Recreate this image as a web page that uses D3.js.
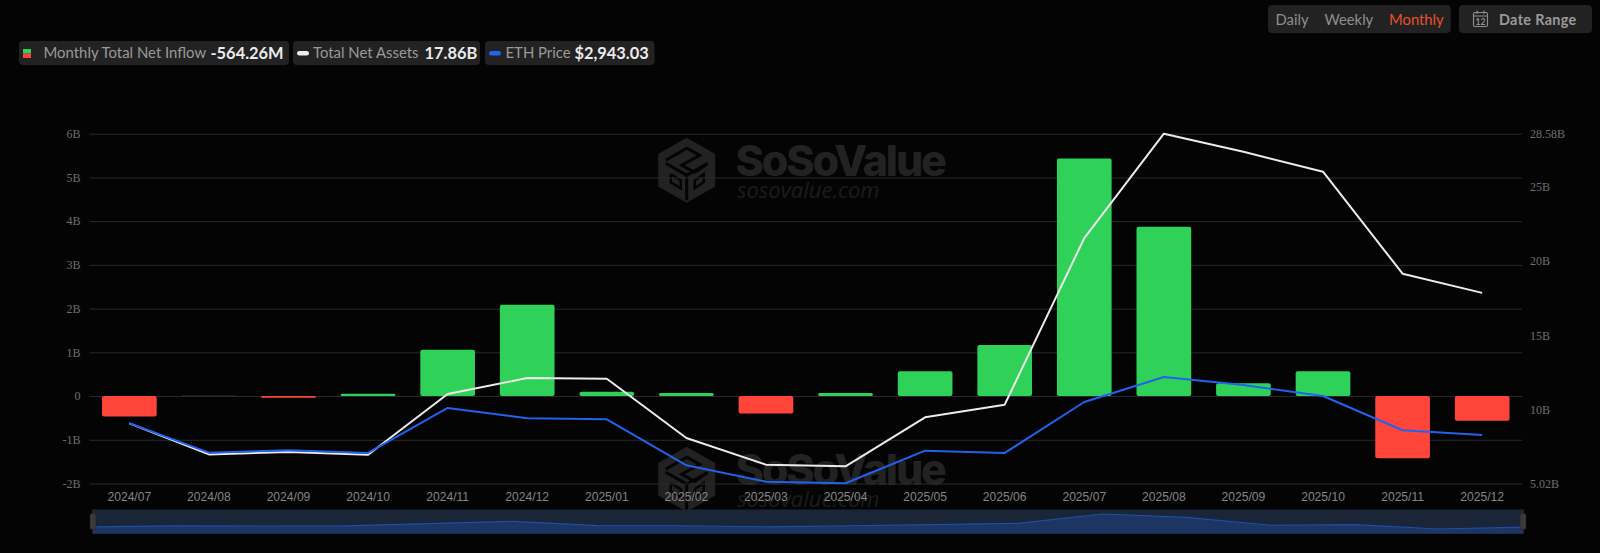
<!DOCTYPE html>
<html><head><meta charset="utf-8">
<script src="https://cdn.jsdelivr.net/npm/d3@7/dist/d3.min.js"></script>
<style>html,body{margin:0;padding:0;background:#040404;overflow:hidden}svg{display:block}</style>
</head><body><svg id="c" width="1600" height="553"></svg>
<script>
const months=["2024/07","2024/08","2024/09","2024/10","2024/11","2024/12","2025/01","2025/02","2025/03","2025/04","2025/05","2025/06","2025/07","2025/08","2025/09","2025/10","2025/11","2025/12"];
const netInflow=[-0.47,0.015,-0.04,0.05,1.06,2.09,0.10,0.07,-0.40,0.07,0.57,1.17,5.43,3.87,0.29,0.57,-1.42,-0.564];
const netAssets=[9.07,6.98,7.14,6.96,11.05,12.12,12.08,8.08,6.29,6.18,9.48,10.33,21.55,28.58,27.36,26.02,19.15,17.86];
const ethPrice=[3232,2506,2565,2499,3610,3355,3331,2195,1790,1750,2555,2499,3758,4375,4178,3906,3059,2943];
const leftTicks=[-2,-1,0,1,2,3,4,5,6];
const rightTicks=[5.02,10,15,20,25,28.58];
const legendItems=[
 {label:"Monthly Total Net Inflow",value:"-564.26M"},
 {label:"Total Net Assets",value:"17.86B"},
 {label:"ETH Price",value:"$2,943.03"}];
const periods=["Daily","Weekly","Monthly"];

const BG="#040404",GREEN="#30d158",RED="#ff453a",BLUE="#2162ee",WHITE="#ececec";
const svg=d3.select("#c");
svg.append("rect").attr("width",1600).attr("height",553).attr("fill",BG);

const L=89.5,R=1522,T=133.7,B=483.5;
const x=d3.scaleBand().domain(months).range([L,R]).paddingInner(0.313).paddingOuter(0.157);
const cx=d=>x(d)+x.bandwidth()/2;
const yL=d3.scaleLinear().domain([-2,6]).range([B,T]);
const yR=d3.scaleLinear().domain([5.02,28.58]).range([B,T]);
const yP=d3.scaleLinear().domain([1745,10383]).range([B,T]);

// slider
const sx=d3.scalePoint().domain(months).range([93,1523]);
const sy=d3.scaleLinear().domain([-3.56,7.49]).range([533.7,509.5]);
const sl=svg.append("g");
sl.append("rect").attr("x",93).attr("y",509.5).attr("width",1430).attr("height",24.2).attr("fill","#1a2537");
sl.append("path").datum(netInflow).attr("fill","#1c3562")
 .attr("d",d3.area().x((d,i)=>sx(months[i])).y0(533.7).y1(d=>sy(d)));
sl.append("path").datum(netInflow).attr("fill","none").attr("stroke","#1f4ea6").attr("stroke-width",1.2)
 .attr("d",d3.line().x((d,i)=>sx(months[i])).y(d=>sy(d)));
[93,1523].forEach(h=>{
 sl.append("line").attr("x1",h).attr("x2",h).attr("y1",509.5).attr("y2",533.7).attr("stroke","#3a3a3a");
 sl.append("rect").attr("x",h-3).attr("y",513.5).attr("width",6).attr("height",16).attr("rx",2).attr("fill","#3a3a3a").attr("stroke","#222").attr("stroke-width",.6);
});

// watermarks
function watermark(dy){
 const g=svg.append("g").attr("transform",`translate(0,${dy})`);
 const c=[686.7,170.2],rx=28.5,ry=32.5;
 const hex=[[0,-1],[1,-.5],[1,.5],[0,1],[-1,.5],[-1,-.5]].map(p=>[c[0]+p[0]*rx,c[1]+p[1]*ry]);
 g.append("path").attr("d","M"+hex.join("L")+"Z").attr("fill","#222222");
 const ink=(pts,w)=>g.append("path").attr("d","M"+pts.map(p=>[c[0]+p[0],c[1]+p[1]]).join("L")).attr("fill","none").attr("stroke",BG).attr("stroke-width",w||3);
 ink([[-21,-10],[0,-22],[13,-15],[-5,-5],[8,2],[20,-6]]);
 ink([[0,30],[0,5],[-21,-7]]);
 ink([[0,5],[21,-7]]);
 ink([[-16,4],[-6,10],[-6,18],[-16,12],[-16,4]],2.5);
 ink([[8,10],[17,4],[17,12],[8,18],[8,10]],2.5);
 g.append("text").attr("x",735.5).attr("y",176).attr("font-family","Inter").attr("font-weight",800).attr("font-size",43).attr("letter-spacing",-2.1).attr("fill","#222222").text("SoSoValue");
 g.append("text").attr("x",737).attr("y",198).attr("font-family","'Open Sans'").attr("font-style","italic").attr("font-size",22).attr("fill","#1c1c1c").text("sosovalue.com");
}
watermark(0);watermark(309);

// axes
const leftG=svg.append("g").attr("transform",`translate(${L},0)`)
 .call(d3.axisLeft(yL).tickValues(leftTicks).tickFormat(d=>d===0?"0":d+"B").tickSize(-(R-L)).tickPadding(9));
leftG.select(".domain").remove();
leftG.selectAll("line").attr("stroke","#2b2b2b").attr("stroke-width",1);
leftG.selectAll("text").attr("font-family","'Liberation Serif'").attr("font-size",12).attr("fill","#6f6f6f");

const rightG=svg.append("g").attr("transform",`translate(${R},0)`)
 .call(d3.axisRight(yR).tickValues(rightTicks).tickFormat(d=>d+"B").tickSize(0).tickPadding(8));
rightG.select(".domain").remove();
rightG.selectAll("text").attr("font-family","'Liberation Serif'").attr("font-size",12).attr("fill","#6f6f6f");

const botG=svg.append("g").attr("transform",`translate(0,${B})`)
 .call(d3.axisBottom(x).tickSize(0).tickPadding(9));
botG.select(".domain").remove();
botG.selectAll("text").attr("font-family","'Liberation Sans'").attr("font-size",12.1).attr("fill","#858585");

// bars
const barPath=(d,m)=>{
 const xx=x(m),w=x.bandwidth(),y0=yL(0),y1=yL(d),h=Math.abs(y1-y0),r=Math.min(2,h/2,w/2);
 const t=Math.min(y0,y1);
 return `M${xx+r},${t}H${xx+w-r}Q${xx+w},${t} ${xx+w},${t+r}V${t+h-r}Q${xx+w},${t+h} ${xx+w-r},${t+h}H${xx+r}Q${xx},${t+h} ${xx},${t+h-r}V${t+r}Q${xx},${t} ${xx+r},${t}Z`;
};
svg.append("g").selectAll("path").data(netInflow).join("path")
 .attr("d",(d,i)=>barPath(d,months[i]))
 .attr("fill",d=>d>=0?GREEN:RED)
 .attr("opacity",d=>Math.abs(d)<0.02?0.35:1);

// lines
svg.append("path").datum(netAssets).attr("fill","none").attr("stroke",WHITE).attr("stroke-width",2).attr("stroke-linejoin","round")
 .attr("d",d3.line().x((d,i)=>cx(months[i])).y(d=>yR(d)));
svg.append("path").datum(ethPrice).attr("fill","none").attr("stroke",BLUE).attr("stroke-width",2).attr("stroke-linejoin","round")
 .attr("d",d3.line().x((d,i)=>cx(months[i])).y(d=>yP(d)));

// legend
const pills=[[19,289,43.5,210.5],[293,480,313,424.5],[485,654.5,505.5,574.5]];
const lg=svg.append("g");
legendItems.forEach((it,i)=>{
 const p=pills[i];
 lg.append("rect").attr("x",p[0]).attr("y",41).attr("width",p[1]-p[0]).attr("height",24).attr("rx",4).attr("fill","#222222");
 lg.append("text").attr("x",p[2]).attr("y",58).attr("font-family","Lato").attr("font-size",14.9).attr("fill","#9a9a9a").text(it.label);
 lg.append("text").attr("x",p[3]).attr("y",58.5).attr("font-family","Lato").attr("font-weight",700).attr("font-size",16.4).attr("fill","#ebebeb").text(it.value);
});
lg.append("rect").attr("x",23).attr("y",49).attr("width",8).attr("height",4.5).attr("fill",GREEN);
lg.append("rect").attr("x",23).attr("y",53.5).attr("width",8).attr("height",4.5).attr("fill",RED);
lg.append("rect").attr("x",297).attr("y",51).attr("width",12).attr("height",4.6).attr("rx",2.3).attr("fill",WHITE);
lg.append("rect").attr("x",489).attr("y",51).attr("width",12).attr("height",4.6).attr("rx",2.3).attr("fill",BLUE);

// top-right controls
const tg=svg.append("g");
tg.append("rect").attr("x",1268).attr("y",5).attr("width",182.7).attr("height",28).attr("rx",4).attr("fill","#222222");
tg.append("rect").attr("x",1459).attr("y",5).attr("width",133).attr("height",28).attr("rx",4).attr("fill","#222222");
const px=[1275.5,1324.5,1389];
periods.forEach((t,i)=>tg.append("text").attr("x",px[i]).attr("y",24.5).attr("font-family","Lato").attr("font-size",14.8)
 .attr("fill",t==="Monthly"?"#e8502a":"#8f8f8f").text(t));
tg.append("rect").attr("x",1473.5).attr("y",12.5).attr("width",14).attr("height",14).attr("rx",1.5).attr("fill","none").attr("stroke","#8f8f8f").attr("stroke-width",1.1);
tg.append("line").attr("x1",1473.5).attr("x2",1487.5).attr("y1",16).attr("y2",16).attr("stroke","#8f8f8f").attr("stroke-width",1);
[1477,1484].forEach(v=>tg.append("line").attr("x1",v).attr("x2",v).attr("y1",10.5).attr("y2",14).attr("stroke","#8f8f8f").attr("stroke-width",1.1));
tg.append("text").attr("x",1480.5).attr("y",25).attr("text-anchor","middle").attr("font-family","Lato").attr("font-size",8.5).attr("font-weight",700).attr("fill","#8f8f8f").text("12");
tg.append("text").attr("x",1499).attr("y",24.5).attr("font-family","Lato").attr("font-weight",700).attr("font-size",14.4).attr("letter-spacing",.35).attr("fill","#9a9a9a").text("Date Range");
</script></body></html>
